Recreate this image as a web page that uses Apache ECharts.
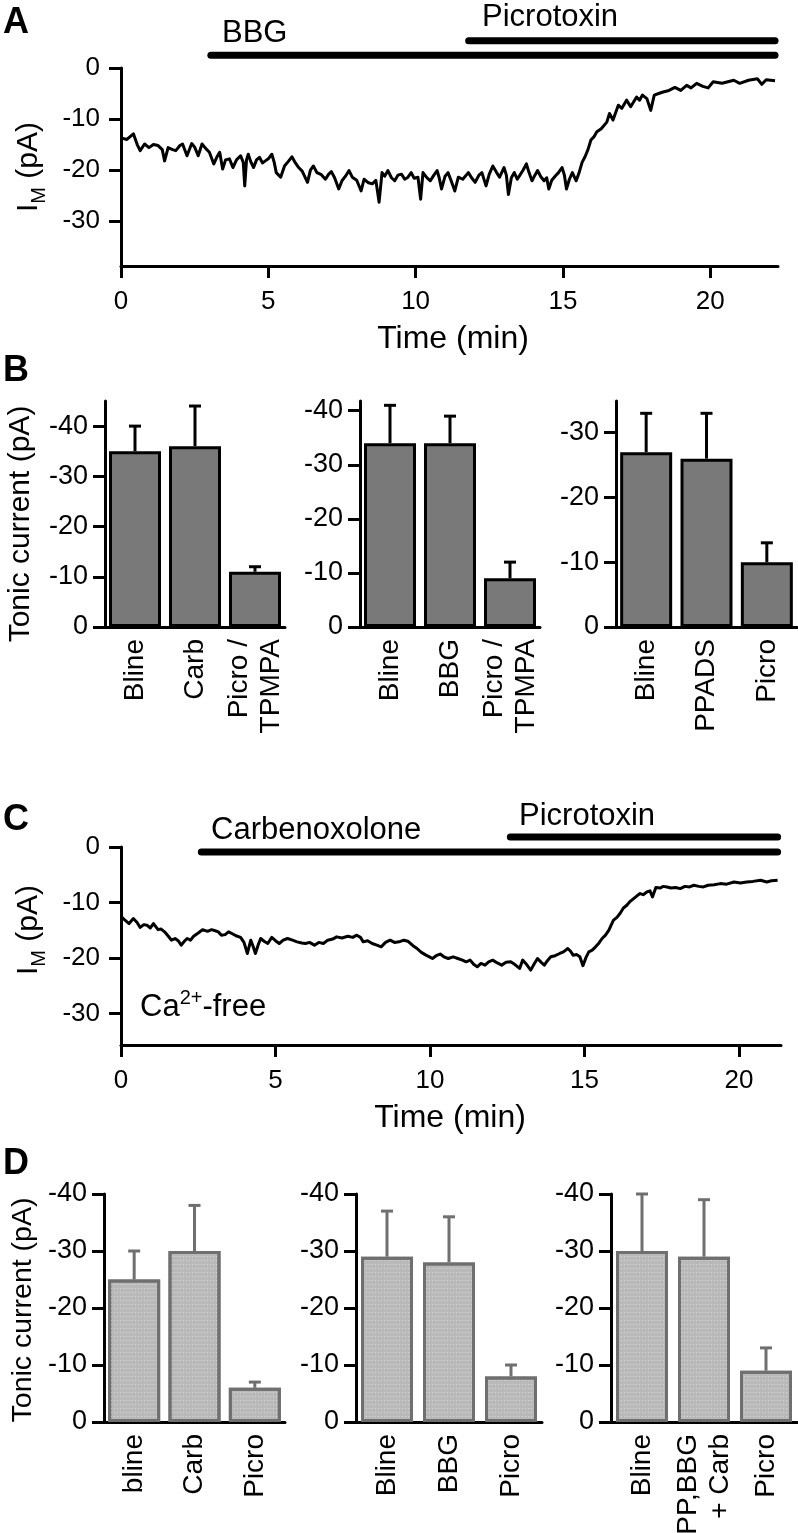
<!DOCTYPE html>
<html><head><meta charset="utf-8">
<script src="https://cdn.jsdelivr.net/npm/echarts@6/dist/echarts.min.js"></script>
<style>html,body{margin:0;padding:0;background:#fff}#c{width:798px;height:1533px}</style>
</head><body><div id="c"></div>
<script>
// ---------- DATA ----------
const traceA = [[0,-13.7],[0.2,-14.0],[0.42,-12.9],[0.55,-15.0],[0.65,-16.2],[0.8,-14.9],[0.95,-15.6],[1.1,-15.0],[1.26,-15.2],[1.4,-16.0],[1.48,-18.2],[1.6,-15.6],[1.75,-16.0],[1.86,-16.2],[2.0,-15.2],[2.09,-14.9],[2.24,-17.2],[2.4,-14.8],[2.5,-15.5],[2.62,-17.2],[2.75,-14.9],[2.88,-15.8],[3.0,-16.5],[3.15,-18.8],[3.25,-17.5],[3.35,-16.5],[3.45,-19.8],[3.55,-18.0],[3.68,-17.8],[3.8,-19.5],[3.92,-18.0],[4.06,-17.2],[4.15,-18.5],[4.2,-23.1],[4.26,-18.0],[4.32,-16.9],[4.4,-18.3],[4.5,-19.5],[4.6,-18.0],[4.7,-17.5],[4.8,-18.6],[4.9,-18.2],[5.0,-17.8],[5.12,-16.9],[5.2,-18.5],[5.27,-20.5],[5.42,-21.4],[5.55,-19.2],[5.68,-18.3],[5.8,-17.4],[5.92,-18.6],[6.03,-19.5],[6.15,-20.2],[6.33,-22.4],[6.43,-20.0],[6.53,-19.2],[6.65,-20.5],[6.8,-20.9],[6.94,-21.8],[7.05,-20.8],[7.14,-20.3],[7.25,-21.5],[7.39,-23.7],[7.5,-22.1],[7.62,-21.2],[7.74,-20.1],[7.85,-21.4],[8.0,-22.0],[8.15,-24.1],[8.25,-21.8],[8.4,-22.5],[8.53,-22.7],[8.65,-22.0],[8.76,-26.3],[8.86,-20.5],[8.95,-21.2],[9.06,-20.1],[9.18,-21.5],[9.29,-22.1],[9.4,-21.0],[9.52,-20.8],[9.63,-21.8],[9.74,-21.4],[9.85,-20.5],[9.95,-21.6],[10.08,-21.4],[10.17,-25.7],[10.25,-20.5],[10.38,-21.5],[10.5,-22.1],[10.62,-21.0],[10.73,-20.1],[10.8,-21.5],[10.88,-23.7],[11.0,-21.2],[11.1,-20.5],[11.2,-22.0],[11.33,-24.1],[11.45,-21.4],[11.6,-21.8],[11.79,-20.5],[11.9,-21.5],[12.02,-22.4],[12.15,-21.0],[12.25,-20.5],[12.39,-23.1],[12.5,-20.8],[12.62,-19.2],[12.75,-20.5],[12.85,-21.4],[13.0,-19.5],[13.08,-21.0],[13.15,-24.8],[13.25,-21.5],[13.35,-20.5],[13.45,-21.8],[13.53,-21.1],[13.65,-20.0],[13.76,-18.8],[13.85,-20.5],[13.95,-22.1],[14.05,-21.0],[14.14,-20.1],[14.25,-21.3],[14.36,-22.1],[14.45,-21.5],[14.52,-23.7],[14.62,-22.0],[14.75,-21.1],[14.85,-20.5],[14.97,-19.5],[15.05,-21.0],[15.12,-23.7],[15.22,-21.8],[15.32,-20.5],[15.45,-22.1],[15.55,-20.5],[15.65,-18.5],[15.75,-17.4],[15.85,-16.0],[15.95,-14.1],[16.05,-13.5],[16.15,-12.5],[16.3,-11.9],[16.49,-10.6],[16.58,-8.9],[16.7,-10.2],[16.88,-7.3],[17.0,-7.9],[17.16,-6.3],[17.3,-7.6],[17.5,-5.7],[17.6,-6.3],[17.7,-5.3],[17.85,-6.0],[17.98,-8.3],[18.1,-5.3],[18.25,-5.0],[18.4,-4.7],[18.6,-4.4],[18.8,-3.8],[19.0,-4.4],[19.2,-3.4],[19.35,-3.9],[19.54,-3.0],[19.75,-3.6],[19.93,-3.9],[20.1,-2.7],[20.4,-3.0],[20.6,-2.7],[20.8,-2.4],[21.0,-3.0],[21.3,-2.4],[21.6,-2.1],[21.75,-3.2],[21.9,-2.3],[22.2,-2.5]];

const traceC = [[0,-12.5],[0.13,-13.2],[0.26,-13.8],[0.4,-12.9],[0.52,-13.6],[0.62,-14.5],[0.74,-14.0],[0.84,-14.1],[0.95,-14.6],[1.05,-13.8],[1.2,-14.9],[1.3,-14.8],[1.41,-15.3],[1.52,-16.0],[1.63,-16.8],[1.75,-16.5],[1.85,-16.9],[1.95,-17.7],[2.05,-17.0],[2.14,-16.5],[2.25,-16.8],[2.35,-16.1],[2.5,-15.5],[2.64,-14.9],[2.8,-15.2],[2.93,-14.9],[3.05,-15.1],[3.15,-15.3],[3.25,-15.9],[3.37,-15.8],[3.48,-15.3],[3.59,-15.6],[3.72,-16.0],[3.87,-16.3],[3.98,-17.2],[4.09,-19.2],[4.2,-16.8],[4.28,-18.0],[4.35,-19.2],[4.45,-17.5],[4.52,-16.5],[4.63,-17.0],[4.75,-17.4],[4.88,-16.3],[5.0,-16.9],[5.12,-17.4],[5.25,-16.8],[5.39,-16.5],[5.55,-16.8],[5.7,-17.1],[5.85,-17.3],[5.97,-17.4],[6.1,-17.2],[6.26,-17.7],[6.4,-17.2],[6.55,-17.4],[6.69,-16.8],[6.85,-16.6],[6.98,-16.2],[7.15,-16.4],[7.34,-16.1],[7.5,-16.3],[7.63,-15.9],[7.75,-16.3],[7.84,-17.1],[7.98,-16.9],[8.13,-17.4],[8.28,-17.7],[8.42,-18.0],[8.56,-17.2],[8.71,-16.8],[8.85,-17.2],[9.0,-17.1],[9.15,-16.8],[9.29,-17.0],[9.45,-17.8],[9.58,-18.3],[9.72,-19.0],[9.87,-19.5],[9.98,-19.8],[10.08,-20.1],[10.2,-19.6],[10.33,-19.3],[10.45,-19.8],[10.59,-20.1],[10.75,-19.8],[10.9,-20.1],[11.05,-20.4],[11.17,-20.7],[11.3,-20.4],[11.42,-21.2],[11.53,-21.6],[11.65,-21.0],[11.78,-21.3],[11.9,-20.7],[12.03,-20.4],[12.18,-20.9],[12.32,-21.3],[12.46,-20.8],[12.61,-20.7],[12.75,-21.2],[12.9,-21.9],[13.0,-20.4],[13.1,-21.0],[13.26,-22.2],[13.38,-21.0],[13.48,-20.1],[13.6,-20.8],[13.7,-21.3],[13.8,-20.5],[13.91,-19.8],[14.05,-19.6],[14.2,-19.2],[14.32,-18.9],[14.46,-18.3],[14.55,-18.8],[14.63,-19.5],[14.75,-19.4],[14.85,-19.8],[14.95,-21.4],[15.05,-19.9],[15.14,-18.9],[15.25,-18.6],[15.36,-18.0],[15.47,-17.3],[15.57,-16.5],[15.68,-15.9],[15.79,-15.0],[15.87,-14.0],[15.94,-13.2],[16.05,-12.7],[16.15,-12.0],[16.26,-11.0],[16.37,-10.5],[16.48,-9.8],[16.59,-9.3],[16.7,-8.8],[16.8,-8.4],[16.9,-8.6],[17.02,-8.1],[17.12,-7.9],[17.2,-9.0],[17.31,-7.3],[17.45,-7.4],[17.55,-7.1],[17.67,-7.2],[17.8,-7.4],[17.95,-7.3],[18.1,-7.5],[18.25,-7.1],[18.4,-7.2],[18.54,-6.9],[18.7,-7.1],[18.85,-7.2],[19.0,-6.9],[19.2,-6.8],[19.4,-6.6],[19.6,-6.7],[19.84,-6.3],[20.05,-6.5],[20.25,-6.3],[20.45,-6.2],[20.7,-6.0],[20.9,-6.3],[21.05,-6.1],[21.25,-6.0]];

const drugNamesA = ['BBG', 'Picrotoxin'];
const drugStartA = [3.05, 11.8];
const drugEndA = [22.2, 22.2];
const drugNamesC = ['Carbenoxolone', 'Picrotoxin'];
const drugStartC = [2.6, 12.6];
const drugEndC = [21.25, 21.25];

const timeTicks = [0, 5, 10, 15, 20];
const currentTicks = [0, -10, -20, -30];

const catsB1 = ['Bline', 'Carb', 'Picro /\nTPMPA'];
const meanB1 = [-35, -36, -11];
const semB1 = [5, 8, 1];
const catsB2 = ['Bline', 'BBG', 'Picro /\nTPMPA'];
const meanB2 = [-34, -34, -9];
const semB2 = [7, 5, 3];
const catsB3 = ['Bline', 'PPADS', 'Picro'];
const meanB3 = [-27, -26, -10];
const semB3 = [6, 7, 3];
const ticksB12 = [0, -10, -20, -30, -40];
const ticksB3 = [0, -10, -20, -30];

const catsD1 = ['bline', 'Carb', 'Picro'];
const meanD1 = [-25, -30, -6];
const semD1 = [5, 8, 1];
const catsD2 = ['Bline', 'BBG', 'Picro'];
const meanD2 = [-29, -28, -8];
const semD2 = [8, 8, 2];
const catsD3 = ['Bline', 'PP,BBG\n+ Carb', 'Picro'];
const meanD3 = [-30, -29, -9];
const semD3 = [10, 10, 4];
const ticksD = [0, -10, -20, -30, -40];

// ---------- CHART ----------
const FF = '"Liberation Sans", Arial, Helvetica, sans-serif';
const chart = echarts.init(document.getElementById('c'), null, {renderer: 'canvas'});

const grids = [
  {left: 121, top: 68, width: 657, height: 198},   // 0 A trace
  {left: 121, top: 26, width: 657, height: 44},    // 1 A drug bars
  {left: 121, top: 847, width: 660, height: 198},  // 2 C trace
  {left: 121, top: 822, width: 660, height: 45},   // 3 C drug bars
  {left: 105, top: 401, width: 180, height: 226},  // 4 B1
  {left: 360, top: 401, width: 180, height: 226},  // 5 B2
  {left: 616, top: 401, width: 181, height: 226},  // 6 B3
  {left: 104, top: 1194, width: 181, height: 228}, // 7 D1
  {left: 356, top: 1194, width: 186, height: 228}, // 8 D2
  {left: 611, top: 1194, width: 186, height: 228}  // 9 D3
].map(g => Object.assign({outerBoundsMode: 'none', containLabel: false}, g));

const axisLine = {show: true, onZero: false, lineStyle: {color: '#000', width: 3}};
const xAxes = [], yAxes = [], series = [];

function timeAxes(gi, tmax, vmin) {
  xAxes.push({gridIndex: gi, type: 'value', min: 0, max: tmax,
    axisLine: axisLine, splitLine: {show: false},
    axisTick: {show: true, length: 12, lineStyle: {width: 3, color: '#000'}, customValues: timeTicks},
    axisLabel: {customValues: timeTicks, fontSize: 26, fontFamily: FF, color: '#000', margin: 23}});
  yAxes.push({gridIndex: gi, type: 'value', min: vmin, max: 0,
    axisLine: axisLine, splitLine: {show: false},
    axisTick: {show: true, length: 12, lineStyle: {width: 3, color: '#000'}, customValues: currentTicks},
    axisLabel: {customValues: currentTicks, fontSize: 26, fontFamily: FF, color: '#000', margin: 21}});
}
function drugAxes(gi, tmax) {
  xAxes.push({gridIndex: gi, type: 'value', min: 0, max: tmax, show: false});
  yAxes.push({gridIndex: gi, type: 'value', min: 0, max: 3, show: false});
}
timeAxes(0, 22.3, -38.8);
drugAxes(1, 22.3);
timeAxes(2, 21.36, -35.7);
drugAxes(3, 21.36);

function barAxes(gi, cats, vmin, ticks) {
  xAxes.push({gridIndex: gi, type: 'category', data: cats, position: 'bottom',
    axisLine: axisLine, axisTick: {show: false}, splitLine: {show: false},
    axisLabel: {interval: 0, rotate: 90, fontSize: 28, lineHeight: 32, fontFamily: FF, color: '#000', margin: 12}});
  yAxes.push({gridIndex: gi, type: 'value', min: vmin, max: 0, inverse: true,
    axisLine: axisLine, splitLine: {show: false},
    axisTick: {show: true, length: 12, lineStyle: {width: 3, color: '#000'}, customValues: ticks},
    axisLabel: {customValues: ticks, fontSize: 27, fontFamily: FF, color: '#000', margin: 17}});
}
barAxes(4, catsB1, -45, ticksB12);
barAxes(5, catsB2, -41.8, ticksB12);
barAxes(6, catsB3, -34.9, ticksB3);
barAxes(7, catsD1, -40, ticksD);
barAxes(8, catsD2, -40, ticksD);
barAxes(9, catsD3, -40, ticksD);

// traces
[[0, traceA], [2, traceC]].forEach(([gi, d]) => {
  series.push({type: 'line', xAxisIndex: gi, yAxisIndex: gi, data: d, showSymbol: false, symbol: 'none',
    lineStyle: {color: '#000', width: 3, join: 'round'}, silent: true, z: 3});
});

// drug application bars (row 1 = first drug, row 2 = second drug)
function drugSeries(gi, starts, ends) {
  starts.forEach((s, i) => {
    series.push({type: 'line', xAxisIndex: gi, yAxisIndex: gi, data: [[s, i + 1], [ends[i], i + 1]],
      symbol: 'none', lineStyle: {color: '#000', width: 7, cap: 'round'}, silent: true});
  });
}
drugSeries(1, drugStartA, drugEndA);
drugSeries(3, drugStartC, drugEndC);

// bar groups
function barGroup(gi, means, sems, fill, border, decal) {
  const itemStyle = {color: fill, borderColor: border, borderWidth: 3};
  if (decal) itemStyle.decal = decal;
  series.push({type: 'bar', xAxisIndex: gi, yAxisIndex: gi, data: means, barWidth: 52,
    itemStyle: itemStyle, silent: true, z: 2});
  series.push({type: 'custom', xAxisIndex: gi, yAxisIndex: gi, z: 4, silent: true,
    data: means.map((m, i) => [i, m, m - sems[i]]),
    renderItem: (params, api) => {
      const p0 = api.coord([api.value(0), api.value(1)]);
      const p1 = api.coord([api.value(0), api.value(2)]);
      const hw = 6;
      return {type: 'group', children: [
        {type: 'line', shape: {x1: p0[0], y1: p0[1], x2: p1[0], y2: p1[1]}, style: {stroke: border, lineWidth: 3}},
        {type: 'line', shape: {x1: p1[0] - hw, y1: p1[1], x2: p1[0] + hw, y2: p1[1]}, style: {stroke: border, lineWidth: 3}}
      ]};
    }});
}
const dotDecal = {symbol: 'rect', symbolSize: 1, dashArrayX: [1, 2], dashArrayY: [1, 3],
  color: 'rgba(255,255,255,0.45)', rotation: 0};
barGroup(4, meanB1, semB1, '#797979', '#000');
barGroup(5, meanB2, semB2, '#797979', '#000');
barGroup(6, meanB3, semB3, '#797979', '#000');
barGroup(7, meanD1, semD1, '#b9b9b9', '#6f6f6f', dotDecal);
barGroup(8, meanD2, semD2, '#b9b9b9', '#6f6f6f', dotDecal);
barGroup(9, meanD3, semD3, '#b9b9b9', '#6f6f6f', dotDecal);

function txt(x, y, text, size, opts) {
  return Object.assign({type: 'text', x: x, y: y, z: 10, silent: true,
    style: Object.assign({text: text, fill: '#000', font: (opts && opts.bold ? 'bold ' : '') + size + 'px ' + FF,
      align: 'left', verticalAlign: 'middle', textAlign: 'left', textVerticalAlign: 'middle'}, opts && opts.style)},
    opts && opts.el);
}
const rot = {rotation: Math.PI / 2};
const ctr = {align: 'center', textAlign: 'center'};
const imRich = {a: {fontSize: 30, fontFamily: FF, lineHeight: 40, fill: '#000', color: '#000'},
                s: {fontSize: 20, fontFamily: FF, lineHeight: 20, verticalAlign: 'bottom', fill: '#000', color: '#000'}};

const graphic = [
  txt(3, 23, 'A', 36, {bold: true}),
  txt(3, 371, 'B', 36, {bold: true}),
  txt(3, 820, 'C', 36, {bold: true}),
  txt(3, 1164, 'D', 36, {bold: true}),
  txt(222, 33, drugNamesA[0], 31),
  txt(482, 17, drugNamesA[1], 31),
  txt(211, 830, drugNamesC[0], 31),
  txt(519, 816, drugNamesC[1], 31),
  txt(453, 339, 'Time (min)', 32, {style: ctr}),
  txt(450, 1118, 'Time (min)', 32, {style: ctr}),
  txt(29, 167, '{a|I}{s|M}{a| (pA)}', 30, {style: Object.assign({rich: imRich}, ctr), el: rot}),
  txt(29, 930, '{a|I}{s|M}{a| (pA)}', 30, {style: Object.assign({rich: imRich}, ctr), el: rot}),
  txt(21, 524, 'Tonic current (pA)', 30, {style: ctr, el: rot}),
  txt(23, 1310, 'Tonic current (pA)', 28.5, {style: ctr, el: rot}),
  txt(140, 1007, '{a|Ca}{p|2+}{a|-free}', 31, {style: {rich: {
      a: {fontSize: 31, fontFamily: FF, lineHeight: 38, fill: '#000', color: '#000'},
      p: {fontSize: 20, fontFamily: FF, lineHeight: 20, verticalAlign: 'top', fill: '#000', color: '#000'}}}})
];

chart.setOption({
  animation: false,
  backgroundColor: '#fff',
  textStyle: {fontFamily: FF},
  grid: grids, xAxis: xAxes, yAxis: yAxes, series: series, graphic: graphic
});
</script>
</body></html>
